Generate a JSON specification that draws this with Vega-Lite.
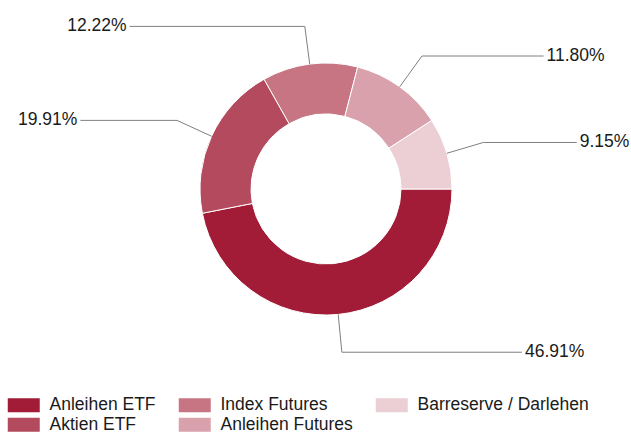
{
  "$schema": "https://vega.github.io/schema/vega-lite/v6.json",
  "width": 631,
  "height": 433,
  "padding": 0,
  "autosize": {"type": "none"},
  "background": "white",
  "config": {"view": {"stroke": null}, "font": "Liberation Sans"},
  "data": {
    "values": [
      {"idx": 1, "category": "Anleihen ETF", "value": 46.91},
      {"idx": 2, "category": "Aktien ETF", "value": 19.91},
      {"idx": 3, "category": "Index Futures", "value": 12.22},
      {"idx": 4, "category": "Anleihen Futures", "value": 11.80},
      {"idx": 5, "category": "Barreserve / Darlehen", "value": 9.15}
    ]
  },
  "transform": [
    {"window": [{"op": "sum", "field": "value", "as": "cum"}], "sort": [{"field": "idx"}], "frame": [null, 0]},
    {"joinaggregate": [{"op": "sum", "field": "value", "as": "tot"}]},
    {"calculate": "PI/2 + 2*PI*(datum.cum - datum.value/2)/datum.tot", "as": "a"},
    {"calculate": "126*sin(datum.a)", "as": "ax"},
    {"calculate": "126*cos(datum.a)", "as": "ay"},
    {"calculate": "164*sin(datum.a)", "as": "ex"},
    {"calculate": "164*cos(datum.a)", "as": "ey"},
    {"calculate": "(datum.ex >= 0 ? 1 : -1) * sqrt(255*255 - datum.ey*datum.ey)", "as": "lx"},
    {"calculate": "format(datum.value, '.2f') + '%'", "as": "label"}
  ],
  "layer": [
    {
      "mark": {"type": "arc", "innerRadius": 75, "outerRadius": 126, "stroke": "white", "strokeWidth": 1},
      "encoding": {
        "x": {"datum": 0, "type": "quantitative", "scale": {"domain": [-326, 305], "nice": false, "zero": false}, "axis": null},
        "y": {"datum": 0, "type": "quantitative", "scale": {"domain": [-244, 189], "nice": false, "zero": false}, "axis": null},
        "theta": {"field": "value", "type": "quantitative", "stack": true, "scale": {"range": [1.5707963, 7.8539816]}},
        "order": {"field": "idx", "type": "quantitative"},
        "color": {
          "field": "category",
          "type": "nominal",
          "scale": {
            "domain": ["Anleihen ETF", "Index Futures", "Barreserve / Darlehen", "Aktien ETF", "Anleihen Futures"],
            "range": ["#a21c37", "#c77583", "#ebcfd5", "#b34a5d", "#d9a1ac"]
          },
          "legend": {
            "orient": "none",
            "legendX": 15,
            "legendY": 396,
            "direction": "horizontal",
            "columns": 3,
            "title": null,
            "symbolType": "M-2.2857,-1H2.2857V1H-2.2857Z",
            "symbolSize": 196,
            "symbolStrokeWidth": 0,
            "symbolOpacity": 1,
            "labelFontSize": 17.5,
            "labelFont": "Liberation Sans",
            "labelColor": "#1a1a1a",
            "labelOffset": 17,
            "columnPadding": 22,
            "rowPadding": 1,
            "padding": 0,
            "labelLimit": 400
          }
        }
      }
    },
    {
      "mark": {"type": "rule", "color": "#808080", "strokeWidth": 1},
      "encoding": {
        "x": {"field": "ax", "type": "quantitative"},
        "y": {"field": "ay", "type": "quantitative"},
        "x2": {"field": "ex"},
        "y2": {"field": "ey"}
      }
    },
    {
      "mark": {"type": "rule", "color": "#808080", "strokeWidth": 1},
      "encoding": {
        "x": {"field": "ex", "type": "quantitative"},
        "y": {"field": "ey", "type": "quantitative"},
        "x2": {"field": "lx"},
        "y2": {"field": "ey"}
      }
    },
    {
      "transform": [{"filter": "datum.ex >= 0"}],
      "mark": {"type": "text", "align": "left", "baseline": "middle", "dx": 3, "fontSize": 17.5, "color": "#1a1a1a"},
      "encoding": {
        "x": {"field": "lx", "type": "quantitative"},
        "y": {"field": "ey", "type": "quantitative"},
        "text": {"field": "label"}
      }
    },
    {
      "transform": [{"filter": "datum.ex < 0"}],
      "mark": {"type": "text", "align": "right", "baseline": "middle", "dx": -3, "fontSize": 17.5, "color": "#1a1a1a"},
      "encoding": {
        "x": {"field": "lx", "type": "quantitative"},
        "y": {"field": "ey", "type": "quantitative"},
        "text": {"field": "label"}
      }
    }
  ]
}
